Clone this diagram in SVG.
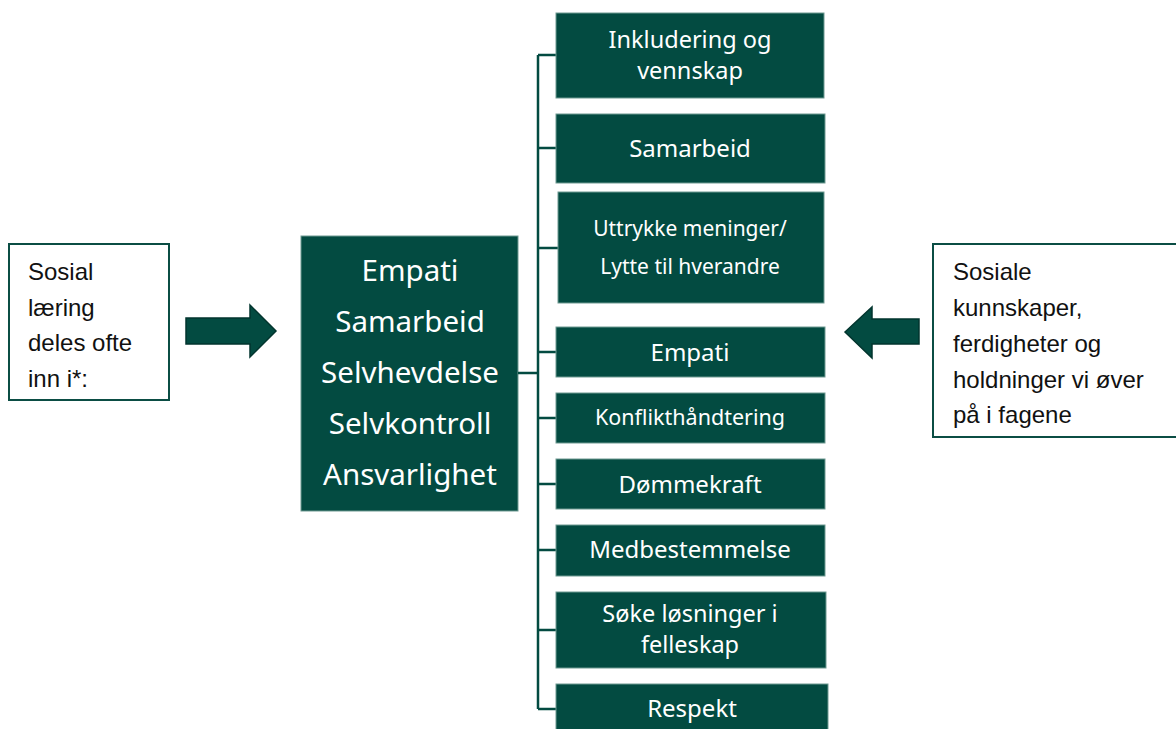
<svg xmlns="http://www.w3.org/2000/svg" width="1176" height="729" viewBox="0 0 1176 729">
<style>
.box{fill:#034b41;stroke:#6f9a92;stroke-width:1}
.t{font-family:"Noto Sans",sans-serif;fill:#ffffff;text-anchor:middle}
.side{fill:#ffffff;stroke:#0b4d44;stroke-width:2}
.st{font-family:"Liberation Sans",Arial,sans-serif;font-size:24px;fill:#111111}
.arrow{fill:#034b41;stroke:#02352e;stroke-width:1.5}
.conn{fill:none;stroke:#034b41;stroke-width:2.5}
</style>
<rect width="1176" height="729" fill="#ffffff"/>
<g id="left-note">
<rect class="side" x="9" y="244" width="160" height="156"/>
<text class="st" x="28"><tspan x="28" y="280">Sosial</tspan><tspan x="28" y="316">læring</tspan><tspan x="28" y="351">deles ofte</tspan><tspan x="28" y="387">inn i*:</tspan></text>
</g>
<g id="arrow-right">
<polygon class="arrow" points="186,318 250,318 250,305 276,331 250,357 250,344 186,344"/>
</g>
<g id="center">
<rect class="box" x="301" y="236" width="217" height="275"/>
<text class="t" font-size="29.5"><tspan x="410" y="281">Empati</tspan><tspan x="410" y="332">Samarbeid</tspan><tspan x="410" y="383">Selvhevdelse</tspan><tspan x="410" y="434">Selvkontroll</tspan><tspan x="410" y="485">Ansvarlighet</tspan></text>
</g>
<g id="connectors">
<path class="conn" d="M518,373 H538 M538,55 V709 M538,55 H556 M538,148 H556 M538,248 H558 M538,352 H556 M538,418 H556 M538,484 H556 M538,550 H556 M538,630 H556 M538,709 H556"/>
</g>
<g id="n1"><rect class="box" x="556" y="13" width="268" height="85"/><text class="t" font-size="23.5"><tspan x="690" y="48">Inkludering og</tspan><tspan x="690" y="79">vennskap</tspan></text></g>
<g id="n2"><rect class="box" x="556" y="114" width="269" height="69"/><text class="t" font-size="24" x="690" y="157">Samarbeid</text></g>
<g id="n3"><rect class="box" x="558" y="192" width="266" height="111"/><text class="t" font-size="21"><tspan x="690" y="236">Uttrykke meninger/</tspan><tspan x="690" y="274">Lytte til hverandre</tspan></text></g>
<g id="n4"><rect class="box" x="556" y="327" width="269" height="50"/><text class="t" font-size="24" x="690" y="361">Empati</text></g>
<g id="n5"><rect class="box" x="556" y="393" width="269" height="50"/><text class="t" font-size="21.5" x="690" y="425">Konflikthåndtering</text></g>
<g id="n6"><rect class="box" x="556" y="459" width="269" height="50"/><text class="t" font-size="24" x="690" y="493">Dømmekraft</text></g>
<g id="n7"><rect class="box" x="556" y="525" width="269" height="51"/><text class="t" font-size="24" x="690" y="558">Medbestemmelse</text></g>
<g id="n8"><rect class="box" x="556" y="592" width="270" height="76"/><text class="t" font-size="23.5"><tspan x="690" y="622">Søke løsninger i</tspan><tspan x="690" y="653">felleskap</tspan></text></g>
<g id="n9"><rect class="box" x="556" y="684" width="272" height="50"/><text class="t" font-size="24" x="692" y="717">Respekt</text></g>
<g id="arrow-left">
<polygon class="arrow" points="845,332 872,307 872,319 919,319 919,344 872,344 872,358"/>
</g>
<g id="right-note">
<rect class="side" x="933" y="244" width="250" height="193"/>
<text class="st"><tspan x="953" y="280">Sosiale</tspan><tspan x="953" y="316">kunnskaper,</tspan><tspan x="953" y="352">ferdigheter og</tspan><tspan x="953" y="388">holdninger vi øver</tspan><tspan x="953" y="423">på i fagene</tspan></text>
</g>
</svg>
